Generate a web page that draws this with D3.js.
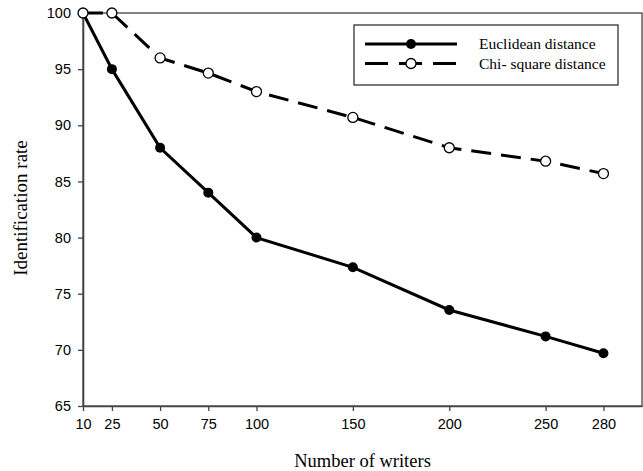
<!DOCTYPE html>
<html>
<head>
<meta charset="utf-8">
<script src="https://cdn.jsdelivr.net/npm/d3@7"></script>
<style>
  body { margin: 0; background: #fff; }
  .tick text { font-family: "Liberation Sans", Arial, sans-serif; font-size: 14.5px; fill: #000; }
  .lbl { font-family: "Liberation Serif", "Times New Roman", serif; fill: #000; }
</style>
</head>
<body>
<div id="chart"></div>
<script>
// Data
const writers = [10, 25, 50, 75, 100, 150, 200, 250, 280];
const euclidean = [100, 95, 88, 84, 80, 77.35, 73.55, 71.2, 69.7];
const chiSquare = [100, 100, 96, 94.65, 93, 90.7, 88, 86.8, 85.7];
const yTicks = [65, 70, 75, 80, 85, 90, 95, 100];
const seriesNames = ["Euclidean distance", "Chi- square distance"];

const W = 643, H = 471;
const margin = { top: 13, right: 1, bottom: 65, left: 83 };
const width = W - margin.left - margin.right;
const height = H - margin.top - margin.bottom;

const svg = d3.select("#chart")
    .append("svg")
    .attr("width", W)
    .attr("height", H);

const g = svg.append("g")
    .attr("transform", `translate(${margin.left},${margin.top})`);

const x = d3.scaleLinear().domain([10, 300]).range([0, width]);
const y = d3.scaleLinear().domain([65, 100]).range([height, 0]);

// frame (top and right)
g.append("rect")
    .attr("x", 0).attr("y", 0)
    .attr("width", width).attr("height", height)
    .attr("fill", "none")
    .attr("stroke", "#444")
    .attr("stroke-width", 1.3);

// axes
const xAxis = g.append("g")
    .attr("transform", `translate(0,${height})`)
    .call(d3.axisBottom(x).tickValues(writers).tickSize(5).tickPadding(8).tickSizeOuter(0));
const yAxis = g.append("g")
    .call(d3.axisLeft(y).tickValues(yTicks).tickSize(5).tickPadding(7).tickSizeOuter(0));
[xAxis, yAxis].forEach(a => {
    a.select(".domain").attr("stroke", "#444").attr("stroke-width", 1.6);
    a.selectAll(".tick line").attr("stroke", "#444").attr("stroke-width", 1.3);
});

const line = d3.line().x(d => x(d[0])).y(d => y(d[1]));
const euData = writers.map((w, i) => [w, euclidean[i]]);
const chData = writers.map((w, i) => [w, chiSquare[i]]);

// Chi-square (dashed, open circles)
g.append("path")
    .datum(chData)
    .attr("d", line)
    .attr("fill", "none")
    .attr("stroke", "#000")
    .attr("stroke-width", 3)
    .attr("stroke-dasharray", "20,10");

// Euclidean (solid, filled circles)
g.append("path")
    .datum(euData)
    .attr("d", line)
    .attr("fill", "none")
    .attr("stroke", "#000")
    .attr("stroke-width", 3);

g.selectAll(".pt-eu")
    .data(euData)
    .enter()
    .append("circle")
    .attr("class", "pt-eu")
    .attr("cx", d => x(d[0]))
    .attr("cy", d => y(d[1]))
    .attr("r", 5)
    .attr("fill", "#000");

g.selectAll(".pt-ch")
    .data(chData)
    .enter()
    .append("circle")
    .attr("class", "pt-ch")
    .attr("cx", d => x(d[0]))
    .attr("cy", d => y(d[1]))
    .attr("r", 5)
    .attr("fill", "#fff")
    .attr("stroke", "#000")
    .attr("stroke-width", 1.3);

// legend
const lg = svg.append("g").attr("transform", "translate(354,25)");
lg.append("rect")
    .attr("width", 264).attr("height", 60)
    .attr("fill", "#fff")
    .attr("stroke", "#222")
    .attr("stroke-width", 1.2);

lg.append("line")
    .attr("x1", 11).attr("x2", 103).attr("y1", 19).attr("y2", 19)
    .attr("stroke", "#000").attr("stroke-width", 3);
lg.append("circle").attr("cx", 57).attr("cy", 19).attr("r", 5).attr("fill", "#000");

lg.append("line")
    .attr("x1", 11).attr("x2", 103).attr("y1", 38.5).attr("y2", 38.5)
    .attr("stroke", "#000").attr("stroke-width", 3)
    .attr("stroke-dasharray", "23,11");
lg.append("circle").attr("cx", 57).attr("cy", 38.5).attr("r", 5)
    .attr("fill", "#fff").attr("stroke", "#000").attr("stroke-width", 1.3);

lg.selectAll(".ltxt")
    .data(seriesNames)
    .enter()
    .append("text")
    .attr("class", "lbl")
    .attr("x", 125)
    .attr("y", (d, i) => 24 + i * 19.5)
    .style("font-size", "15.5px")
    .text(d => d);

// axis titles
svg.append("text")
    .attr("class", "lbl")
    .attr("x", margin.left + width / 2)
    .attr("y", 467)
    .attr("text-anchor", "middle")
    .style("font-size", "18.5px")
    .text("Number of writers");

svg.append("text")
    .attr("class", "lbl")
    .attr("transform", "translate(27,208) rotate(-90)")
    .attr("text-anchor", "middle")
    .style("font-size", "19px")
    .text("Identification rate");
</script>
</body>
</html>
